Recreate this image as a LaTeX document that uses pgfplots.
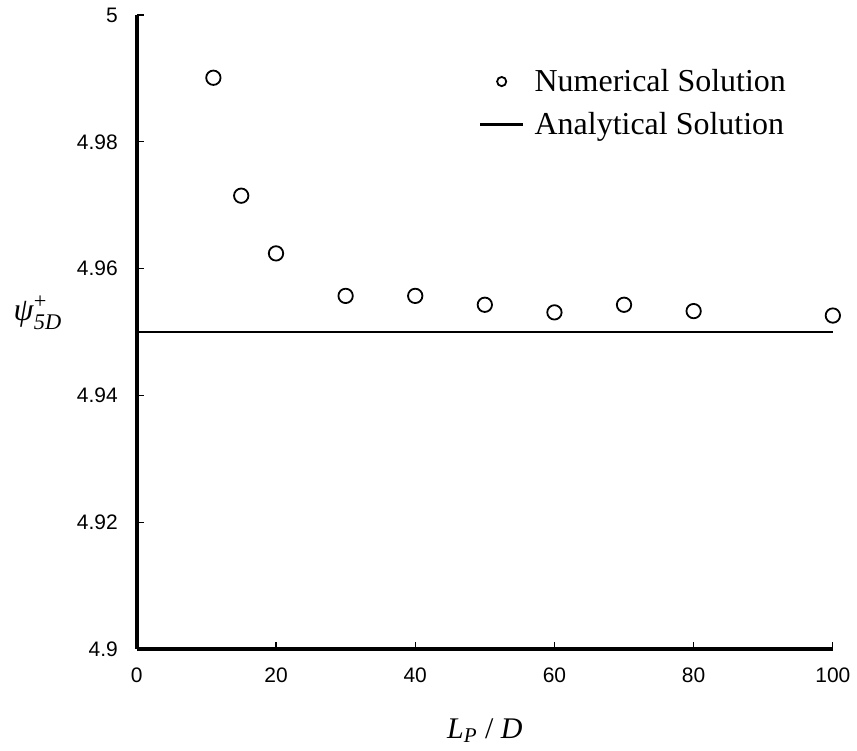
\documentclass[border=0pt]{standalone}
\usepackage{fontspec}
\setmainfont{Liberation Serif}
\setsansfont{Liberation Sans}
\usepackage{amsmath}
\usepackage{pgfplots}
\pgfplotsset{compat=1.18}

\pgfplotstableread{
x y
11 4.9901
15 4.9715
20 4.9624
30 4.9557
40 4.9557
50 4.9543
60 4.9531
70 4.9543
80 4.9533
100 4.9526
}\numerical

\begin{document}
\begin{tikzpicture}
\begin{axis}[
    scale only axis,
    width=348.5pt, height=317.5pt,
    xmin=0, xmax=100, ymin=4.9, ymax=5,
    axis lines*=left,
    axis line style={line width=2.2pt},
    tick align=inside,
    major tick length=3.5pt,
    tick style={line width=0.6pt, black},
    xtick={0,20,...,100},
    ytick={4.9,4.92,4.94,4.96,4.98,5},
    /pgf/number format/assume math mode=true,
    ticklabel style={font=\sffamily\fontsize{10.5}{12}\selectfont},
    yticklabel style={xshift=-6pt},
    xticklabel style={yshift=-6pt},
    xlabel={\textit{L}\textsubscript{\textit{P}} / \textit{D}},
    xlabel style={at={(axis description cs:0.5,-0.129)}, anchor=center,
        font=\fontsize{15}{18}\selectfont},
    ylabel={$\text{\textit{ψ}}^{\text{+}}_{\text{\textit{5D}}}$},
    ylabel style={at={(axis description cs:-0.142,0.531)}, anchor=center,
        rotate=-90, font=\fontsize{16}{19}\selectfont},
    legend style={draw=none, fill=none, at={(axis description cs:0.482,0.861)},
        anchor=west, font=\fontsize{16}{19}\selectfont, row sep=5pt,
        legend cell align=left,
        /tikz/every odd column/.append style={column sep=3pt}},
    clip=false,
]
\addplot[only marks, mark=o, mark size=3.6pt, mark options={line width=0.9pt, black},
    legend image code/.code={
        \draw[mark=o, mark size=2.3pt, line width=0.9pt, black]
            plot coordinates {(0.38cm,0cm)};}]
    table[x=x, y=y] {\numerical};
\addlegendentry{Numerical Solution}
\addplot[black, line width=1.4pt, no marks,
    legend image code/.code={
        \draw[black, line width=1.4pt] (0cm,0cm) -- (0.76cm,0cm);}]
    coordinates {(0,4.95) (100,4.95)};
\addlegendentry{Analytical Solution}
\end{axis}
\path (current axis.south west) +(-68.5pt,-51pt)
      (current axis.north east) +(11.5pt,7.5pt);
\end{tikzpicture}
\end{document}
